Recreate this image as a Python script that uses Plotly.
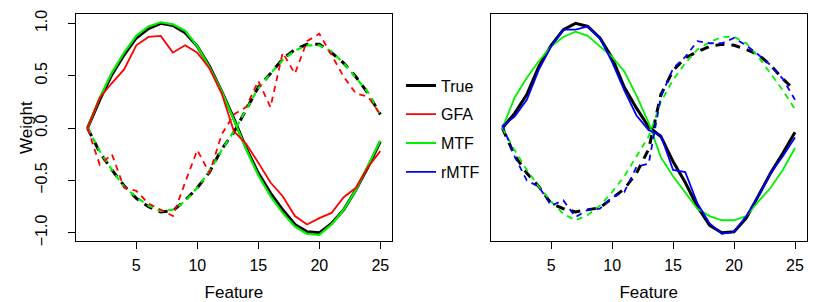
import plotly.graph_objects as go

features = list(range(1, 26))

# Left panel (True / GFA / MTF)
true_solid_L = [0.00, 0.27, 0.51, 0.70, 0.86, 0.95, 1.00, 0.98, 0.91, 0.78, 0.59, 0.35, 0.09, -0.19, -0.43, -0.62, -0.78, -0.92, -0.99, -1.00, -0.91, -0.78, -0.59, -0.37, -0.13]
true_dash_L = [0.00, -0.23, -0.40, -0.55, -0.67, -0.75, -0.80, -0.79, -0.69, -0.57, -0.42, -0.20, -0.04, 0.17, 0.39, 0.52, 0.66, 0.75, 0.80, 0.80, 0.72, 0.62, 0.49, 0.33, 0.13]
gfa_solid_L = [0.00, 0.29, 0.43, 0.56, 0.79, 0.87, 0.88, 0.72, 0.79, 0.72, 0.57, 0.33, -0.03, -0.15, -0.33, -0.52, -0.65, -0.84, -0.92, -0.86, -0.81, -0.66, -0.57, -0.37, -0.22]
gfa_dash_L = [0.00, -0.35, -0.25, -0.57, -0.60, -0.72, -0.78, -0.84, -0.52, -0.21, -0.43, -0.06, 0.13, 0.20, 0.45, 0.20, 0.72, 0.52, 0.83, 0.90, 0.70, 0.49, 0.33, 0.30, 0.13]
mtf_solid_L = [0.00, 0.29, 0.53, 0.72, 0.88, 0.97, 1.01, 0.99, 0.93, 0.78, 0.58, 0.35, 0.08, -0.20, -0.45, -0.65, -0.81, -0.94, -1.01, -1.02, -0.92, -0.78, -0.59, -0.36, -0.12]
mtf_dash_L = [0.00, -0.22, -0.40, -0.56, -0.66, -0.74, -0.79, -0.78, -0.70, -0.57, -0.41, -0.21, -0.03, 0.17, 0.38, 0.52, 0.65, 0.74, 0.79, 0.79, 0.73, 0.62, 0.48, 0.34, 0.12]

# Right panel (True / MTF / rMTF)
true_solid_R = [0.00, 0.14, 0.32, 0.59, 0.79, 0.94, 1.00, 0.97, 0.86, 0.67, 0.39, 0.19, 0.01, -0.08, -0.32, -0.52, -0.75, -0.93, -1.00, -0.99, -0.86, -0.64, -0.43, -0.24, -0.04]
true_dash_R = [0.00, -0.26, -0.43, -0.56, -0.72, -0.77, -0.80, -0.78, -0.76, -0.67, -0.58, -0.43, -0.20, 0.32, 0.55, 0.67, 0.73, 0.78, 0.80, 0.79, 0.75, 0.70, 0.60, 0.47, 0.36]
mtf_solid_R = [0.00, 0.29, 0.48, 0.64, 0.78, 0.87, 0.92, 0.88, 0.78, 0.68, 0.54, 0.31, 0.05, -0.28, -0.46, -0.62, -0.77, -0.84, -0.88, -0.88, -0.84, -0.70, -0.57, -0.40, -0.19]
mtf_dash_R = [0.00, -0.21, -0.40, -0.56, -0.70, -0.82, -0.88, -0.83, -0.74, -0.61, -0.46, -0.27, -0.08, 0.25, 0.46, 0.62, 0.75, 0.82, 0.87, 0.87, 0.81, 0.68, 0.52, 0.36, 0.18]
rmtf_solid_R = [0.02, 0.11, 0.27, 0.56, 0.78, 0.94, 0.94, 0.97, 0.86, 0.63, 0.36, 0.12, -0.02, -0.07, -0.40, -0.42, -0.72, -0.91, -1.01, -0.99, -0.84, -0.65, -0.43, -0.27, -0.09]
rmtf_dash_R = [0.03, -0.27, -0.50, -0.56, -0.74, -0.69, -0.85, -0.78, -0.77, -0.66, -0.61, -0.37, -0.34, 0.30, 0.57, 0.68, 0.83, 0.81, 0.81, 0.86, 0.79, 0.70, 0.60, 0.47, 0.27]

x_ticks = [5, 10, 15, 20, 25]
y_ticks = [-1.0, -0.5, 0.0, 0.5, 1.0]
y_tick_text = ["\u22121.0", "\u22120.5", "0.0", "0.5", "1.0"]

BLACK, RED, GREEN, BLUE = "#000000", "#FF0000", "#00F000", "#0000FF"
THICK_DASH = "9px,7px"
THIN_DASH = "6px,5px"

fig = go.Figure()

def add(y, xa, ya, name, color, width, dash, show, rank):
    fig.add_trace(go.Scatter(
        x=features, y=y, xaxis=xa, yaxis=ya, mode="lines", name=name,
        legendgroup=name, showlegend=show, legendrank=rank,
        line=dict(color=color, width=width, dash=dash),
        hoverinfo="skip"))

# left
add(true_solid_L, "x", "y", "True", BLACK, 3, "solid", True, 1)
add(true_dash_L, "x", "y", "True", BLACK, 3, THICK_DASH, False, 1)
add(mtf_solid_L, "x", "y", "MTF", GREEN, 2.2, "solid", True, 3)
add(mtf_dash_L, "x", "y", "MTF", GREEN, 2.2, THIN_DASH, False, 3)
add(gfa_solid_L, "x", "y", "GFA", RED, 1.8, "solid", True, 2)
add(gfa_dash_L, "x", "y", "GFA", RED, 1.8, THIN_DASH, False, 2)
# right
add(true_solid_R, "x2", "y2", "True", BLACK, 3, "solid", False, 1)
add(true_dash_R, "x2", "y2", "True", BLACK, 3, THICK_DASH, False, 1)
add(mtf_solid_R, "x2", "y2", "MTF", GREEN, 1.8, "solid", False, 3)
add(mtf_dash_R, "x2", "y2", "MTF", GREEN, 1.8, THIN_DASH, False, 3)
add(rmtf_solid_R, "x2", "y2", "rMTF", BLUE, 1.8, "solid", True, 4)
add(rmtf_dash_R, "x2", "y2", "rMTF", BLUE, 1.8, THIN_DASH, False, 4)

FONT = "Liberation Sans, Arial, sans-serif"
W, H = 830, 302
FS_TICK = 16
FS_TITLE = 17
FS_LEG = 16

xcommon = dict(range=[0.04, 25.96], tickvals=x_ticks, ticks="outside", ticklen=7,
               tickwidth=1, tickcolor="black", showline=True, mirror=True,
               linecolor="black", linewidth=1, showgrid=False, zeroline=False,
               automargin=False, ticklabelstandoff=3,
               tickfont=dict(size=FS_TICK, color="black", family=FONT),
               title=dict(text="Feature", font=dict(size=FS_TITLE, color="black", family=FONT), standoff=13))
ycommon = dict(range=[-1.078, 1.089], showline=True, mirror=True, linecolor="black",
               linewidth=1, showgrid=False, zeroline=False, automargin=False)

fig.update_layout(
    width=W, height=H, margin=dict(l=0, r=0, t=0, b=0, autoexpand=False),
    paper_bgcolor="white", plot_bgcolor="white",
    font=dict(family=FONT, color="black"),
    xaxis=dict(domain=[75.8 / W, 392 / W], anchor="y", **xcommon),
    xaxis2=dict(domain=[490.7 / W, 806.7 / W], anchor="y2", **xcommon),
    yaxis=dict(domain=[1 - 241 / H, 1 - 14 / H], anchor="x", tickvals=y_ticks,
               ticktext=y_tick_text, ticks="outside", ticklen=7, tickwidth=1,
               tickcolor="black", tickangle=-90, ticklabelstandoff=14,
               tickfont=dict(size=FS_TICK, color="black", family=FONT),
               **ycommon),
    yaxis2=dict(domain=[1 - 241 / H, 1 - 14 / H], anchor="x2", showticklabels=False,
                ticks="", **ycommon),
    legend=dict(x=401 / W, y=1 - 68.5 / H, xanchor="left", yanchor="top",
                bgcolor="rgba(0,0,0,0)", borderwidth=0, tracegroupgap=5,
                font=dict(size=FS_LEG, color="black", family=FONT), traceorder="grouped"),
    showlegend=True,
    annotations=[dict(text="Weight", xref="paper", yref="paper", x=27 / W, y=1 - 128 / H,
                      xanchor="center", yanchor="middle", textangle=-90, showarrow=False,
                      font=dict(size=FS_TITLE, color="black", family=FONT))],
)

fig.write_html("out.html", config={"displayModeBar": False},
               post_script="document.body.style.margin='0px';")
